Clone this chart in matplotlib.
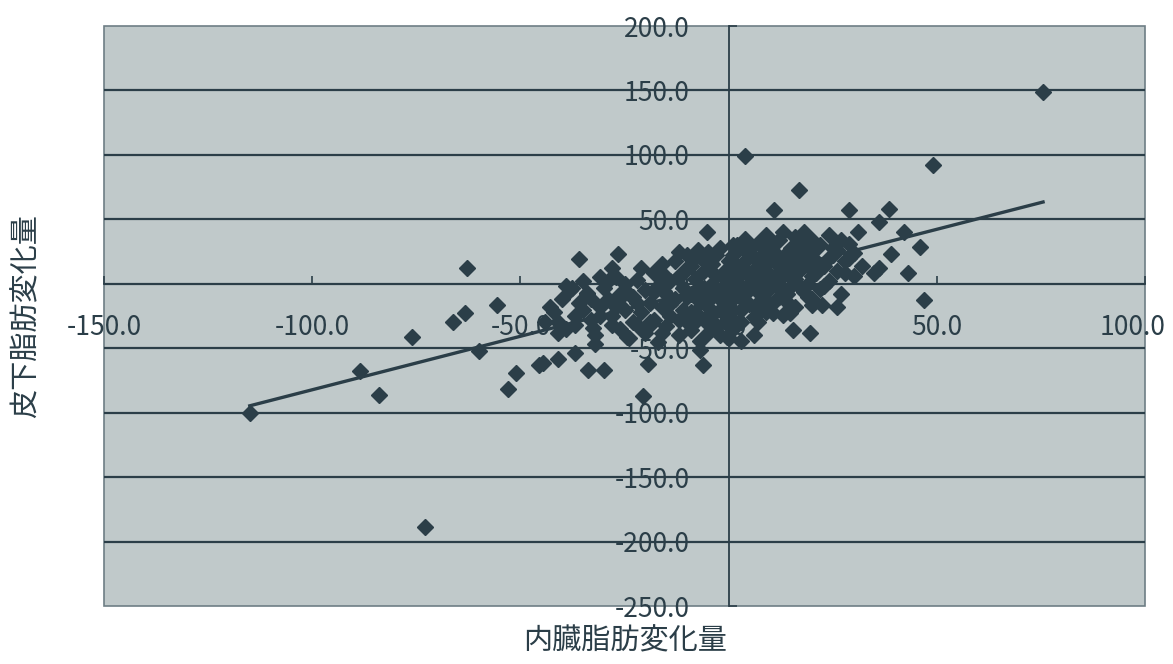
import matplotlib
matplotlib.use("Agg")
import matplotlib.pyplot as plt
import matplotlib.transforms as mtransforms
import numpy as np

plt.rcParams['font.family'] = ['Noto Sans CJK JP', 'DejaVu Sans']
plt.rcParams['axes.unicode_minus'] = False

# visceral fat change (x) / subcutaneous fat change (y)
visceral = [
    # outer points
    75.5, 49, 4, 17, 11, 29, 38.5, 36, 42, 46, 39, 36, 35, 43, 47,
    15.5, 19.6, 22.4, 26, 14.7, 10.7, 20,
    -5.2, -12, -7.4, -26.6, -36, -28, -31, -18, -37.6, -34, -26,
    -62.8, -55.6, -63.3, -66.2, -76, -60, -53, -51, -45.5, -41,
    -115, -88.5, -84, -73, -19.3, -20.6, -6.9, -6.1, -0.4, -33.7, -29.9,
    -37, -32, -24.4, -44.6, -28, -32.5, -22, -18.4, -41,
    # left part of the cluster
    -44, -42, -40, -39, -38, -37, -36, -35, -34, -33, -32, -31, -30, -29,
    -28, -27, -26, -26, -25, -25,
    -24, -23, -23, -22, -21, -21, -20, -20, -19, -18, -18, -17, -17, -16,
    -16, -15, -15, -14, -14, -13, -13, -12, -12, -11, -11, -10, -10, -10,
    -43, -41, -39, -37, -35, -33, -31, -29, -27, -24, -22, -19, -18, -16,
    -15, -14, -12, -11, -10, -9,
    # centre of the cluster
    -9, -9, -8, -8, -8, -7, -7, -6, -6, -6, -5, -5, -4, -4, -4, -3, -3, -3,
    -2, -2, -2, -1, -1, -1, 0, 0, 0, 0, -5, -9,
    1, 1, 1, 2, 2, 2, 3, 3, 3, 4, 4, 4, 5, 5, 5, 6, 6, 6, 7, 7, 7, 8, 8, 8,
    9, 9, 9, 10, 10, 10, 0, 3,
    -8, -7, -6, -5, -4, -3, -2, -1, -1, 0, 1, 1, 2, 2, 3, 4, 4, 5, 6, 6, 7,
    8, 8, 9, 10, 10,
    # right part of the cluster
    11, 11, 11, 12, 12, 12, 13, 13, 13, 14, 14, 15, 15, 15, 16, 16, 16, 17,
    17, 18, 18, 18, 19, 19, 20, 20, 20,
    21, 21, 22, 22, 23, 24, 24, 25, 25, 26, 27, 27, 28, 29, 30, 30, 31, 32,
    11, 12, 13, 14, 14, 15, 16, 17, 18, 19, 20, 21, 22, 23, 24, 26, 28, 29,
]
subcutaneous = [
    149, 92, 99, 73, 57, 57, 58, 48, 40, 28.5, 23, 12, 8, 8, -12.6,
    -36, -38.4, -16.6, -18, -23, -23, -16.6,
    40, 25, 26, 23, 19, 12, 5, 9, -3.4, -7.4, -11,
    12, -16.4, -23, -29.6, -41.4, -52, -82, -69, -63, -58,
    -100, -68, -86, -189, -62, -87, -51.5, -63, -41, -67, -67,
    -54, -47, -41, -61.6, -32, -34, -32, -30.6, -29.5,
    -30, -22, -12, -35, -5, -25, -15, 2, -8, -28, -40, -18, -3, -12,
    -25, 5, -35, -8, -20, 0,
    -42, -30, -10, 3, -22, 12, -38, -5, -15, 8, -28, -2, -45, -18,
    15, -8, -33, 2, -25, 18, -12, -40, 6, -20, -3, -30, 12, 22,
    -18, -38, -2, -32, -20, -12, -25, 2, -18, -8, -15, -30, -6, -38,
    5, -16, -28, 8, -10, -22,
    -8, -36, 4, -22, 20, -14, -44, 10, -3, -28, 25, -18, 0, -10, 15, -32, -6, 6,
    -20, 28, -40, -2, 10, -14, -26, 18, 3, -8, -38, 14,
    -12, 22, -35, 5, -4, 30, -20, 12, -30, -8, 35, 18, 0, -16, 26, -26, 8, -40,
    14, -6, 32, -12, 22, 2, -22, 38, 10, -2, 18, 28, -42, -44,
    -30, -2, 18, -8, -24, 22, -12, -30, 4, 12, -20, 30, -8, 14, -2, -14, 26,
    8, -18, 20, -30, 10, 30, -6, 6, -16,
    5, -14, 25, 34, -4, 14, -24, 20, 40, 8, -8, 28, -2, 16, 36, -18, 4, 22,
    10, -6, 30, 40, 14, 0, 24, -12, 34,
    8, 18, 30, -4, 14, 38, 2, 22, 28, 10, 34, -8, 18, 31, 6, 24, 40, 14,
    32, -10, 6, 24, -14, 10, 30, -2, 18, -10, 6, 28, 12, -2, 20, 26, 8, 20,
]

# linear trend
trend_slope = 0.83
trend_intercept = 0.8

x_ticks = [-150, -100, -50, 0, 50, 100]
y_ticks = [-250, -200, -150, -100, -50, 0, 50, 100, 150, 200]

ink = '#2b3e48'
fig = plt.figure(figsize=(11.73, 6.64), dpi=100)
ax = fig.add_axes([0.0887, 0.0873, 0.8875, 0.8735])
ax.set_facecolor('#c0c9ca')
ax.patch.set_edgecolor('#6e7e85')
ax.patch.set_linewidth(1.2)

ax.plot(visceral, subcutaneous, 'D', ms=7.8, color=ink, zorder=3)

tx = np.array([min(visceral), max(visceral)])
ax.plot(tx, trend_slope * tx + trend_intercept, '-', color=ink, lw=2.4, zorder=4)

ax.set_xlim(-150, 100)
ax.set_ylim(-250, 200)
ax.set_xticks(x_ticks)
ax.set_yticks(y_ticks)
ax.set_xticklabels(['%.1f' % v for v in x_ticks])
ax.set_yticklabels(['%.1f' % v for v in y_ticks])

# axes cross at the origin, ticks pointing into the plot
for side in ['top', 'right']:
    ax.spines[side].set_visible(False)
ax.spines['left'].set_position(('data', 0))
ax.spines['bottom'].set_position(('data', 0))
ax.spines['left'].set_color(ink)
ax.spines['bottom'].set_color(ink)
ax.spines['left'].set_linewidth(1.3)
ax.spines['bottom'].set_linewidth(1.3)
ax.tick_params(axis='x', direction='in', length=6, width=1.2, color=ink,
               pad=22, labelsize=19, labelcolor=ink)
ax.tick_params(axis='y', direction='in', length=6, width=1.2, color=ink,
               pad=28, labelsize=19, labelcolor=ink)

# keep the last x label inside the figure
last = ax.get_xticklabels()[-1]
last.set_transform(last.get_transform() +
                   mtransforms.ScaledTranslation(-9 / 72, 0, fig.dpi_scale_trans))

# horizontal grid between the frame edges
for v in y_ticks[1:-1]:
    ax.axhline(v, color=ink, lw=1.6, zorder=1.5)

ax.set_xlabel('内臓脂肪変化量', fontsize=21, color=ink)
ax.set_ylabel('皮下脂肪変化量', fontsize=21, color=ink)
ax.xaxis.set_label_coords(0.5, -0.036)
ax.yaxis.set_label_coords(-0.06, 0.5)

fig.savefig('out.png', dpi=100)
